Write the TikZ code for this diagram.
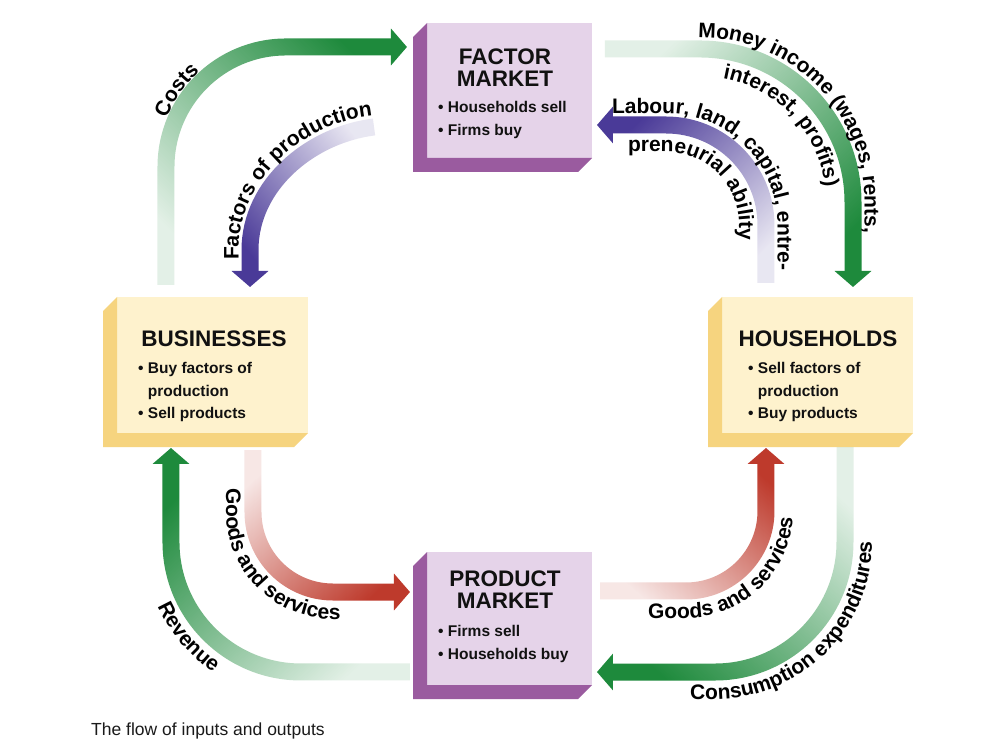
\documentclass[tikz,border=0pt]{standalone}
\usepackage{fontspec}
\setmainfont{Liberation Sans}
\usetikzlibrary{arrows.meta, decorations.text, fadings}
\definecolor{flowgreen}{HTML}{1E8A3C}
\definecolor{flowpurple}{HTML}{4A3A98}
\definecolor{flowred}{HTML}{BE3A2C}
\definecolor{marketface}{HTML}{E5D3E9}
\definecolor{marketside}{HTML}{9A5B9F}
\definecolor{sectorface}{HTML}{FEF2CD}
\definecolor{sectorside}{HTML}{F6D47F}
\definecolor{labelink}{HTML}{111111}
\definecolor{captionink}{HTML}{1A1A1A}
\newcommand{\flowfont}{\bfseries\fontsize{21}{21}\selectfont}
\tikzfading[name=fadene, bottom color=transparent!88, top color=transparent!0, shading angle=-45]
\tikzfading[name=fadenw, bottom color=transparent!88, top color=transparent!0, shading angle=45]
\tikzfading[name=fadesw, bottom color=transparent!88, top color=transparent!0, shading angle=135]
\tikzfading[name=fadese, bottom color=transparent!88, top color=transparent!0, shading angle=225]

\begin{document}
\begin{tikzpicture}[
        x=1pt, y=-1pt,
        flow/.style={line width=17pt, -{Triangle[width=36pt, length=16pt]}},
        face/.style={rectangle, inner sep=0pt, outer sep=0pt},
        marketbox/.style={face, fill=marketface, minimum width=165pt, minimum height=135pt},
        sectorbox/.style={face, fill=sectorface, minimum width=191pt, minimum height=136pt},
        boxtitle/.style={align=center, font=\bfseries\fontsize{22.5}{21.5}\selectfont, text=labelink, inner sep=0pt},
        boxlist/.style={align=left, font=\bfseries\fontsize{15.5}{22.5}\selectfont, text=labelink, inner sep=0pt, anchor=west},
        flowtext/.style={decorate, decoration={text along path, text={|\flowfont|#1}}}
    ]
        \fill[white] (0,0) rectangle (1001,739);

        \node[marketbox] (factor) at (509.5,90.5) {};
        \node[sectorbox] (business) at (212.5,365) {};
        \node[sectorbox] (household) at (817.5,365) {};
        \node[marketbox, minimum height=133pt] (product) at (509.5,618.5) {};
        \foreach \n/\c in {factor/marketside, product/marketside, business/sectorside, household/sectorside}
            \fill[\c] (\n.north west) -- ++(-14,14) -- ([shift={(-14,14)}]\n.south west)
                -- ([shift={(-14,14)}]\n.south east) -- (\n.south east) -- (\n.south west) -- cycle;

        \node[boxtitle] (factortitle) at (505,67.5) {FACTOR\\MARKET};
        \node[boxlist] (factorlist) at (438,120) {• Households sell\\• Firms buy};
        \node[boxtitle] (businesstitle) at (214,339) {BUSINESSES};
        \node[boxlist] (businesslist) at (138,392) {• Buy factors of\\\phantom{• }production\\• Sell products};
        \node[boxtitle] (householdtitle) at (818,339) {HOUSEHOLDS};
        \node[boxlist] (householdlist) at (748,392) {• Sell factors of\\\phantom{• }production\\• Buy products};
        \node[boxtitle] (producttitle) at (505,589.5) {PRODUCT\\MARKET};
        \node[boxlist] (productlist) at (438,644) {• Firms sell\\• Households buy};

        \draw[flow, draw=flowgreen, path fading=fadene] ([shift={(49,-12)}]business.north west) -- (166,167)
            .. controls (166,100.7) and (219.7,47) .. (286,47) -- ([shift={(-20,24)}]factor.north west);
        \draw[flow, draw=flowpurple, path fading=fadesw] ([shift={(-53,104)}]factor.north west)
            .. controls (310,135) and (250,185) .. (250,250) -- ([shift={(133,-10)}]business.north west);
        \draw[flow, draw=flowgreen, path fading=fadese] ([shift={(13,26)}]factor.north east) -- (700,49)
            .. controls (784.5,49) and (853,117.5) .. (853,202) -- ([shift={(131,-10)}]household.north west);
        \draw[flow, draw=flowpurple, path fading=fadenw] ([shift={(44,-14)}]household.north west) -- (766,225)
            .. controls (766,169.8) and (721.2,125) .. (666,125) -- ([shift={(5,102)}]factor.north east);
        \draw[flow, draw=flowred, path fading=fadese] ([shift={(136,17)}]business.south west) -- (253,512)
            .. controls (253,556.2) and (288.8,592) .. (333,592) -- ([shift={(-17,40)}]product.north west);
        \draw[flow, draw=flowgreen, path fading=fadenw] ([shift={(-17,120)}]product.north west) -- (301,672)
            .. controls (229.2,672) and (171,613.8) .. (171,542) -- ([shift={(54,15)}]business.south west);
        \draw[flow, draw=flowred, path fading=fadene] ([shift={(8,39)}]product.north east) -- (686,591)
            .. controls (730.2,591) and (766,555.2) .. (766,511) -- ([shift={(44,15)}]household.south west);
        \draw[flow, draw=flowgreen, path fading=fadesw] ([shift={(123,14)}]household.south west) -- (845,542)
            .. controls (845,613.8) and (786.8,672) .. (715,672) -- ([shift={(5,120)}]product.north east);

        \path[flowtext={Costs}, decoration={text align={left indent=50pt}}]
            (157,167) .. controls (157,95.7) and (214.7,38) .. (286,38);
        \path[flowtext={Factors of production}, decoration={text align={left indent=12pt}}]
            (238.5,272) -- (238.5,250) .. controls (238.5,178) and (305,123) .. (372,115.5) -- (395,112);
        \path[flowtext={Money income (wages, rents,}, decoration={text align={left indent=98pt}}]
            (600,37.5) -- (700,37.5) .. controls (790.9,37.5) and (864.5,111.1) .. (864.5,202) -- (864.5,300);
        \path[flowtext={interest, profits)}, decoration={text align={left indent=43pt}}]
            (680,76) -- (700,76) .. controls (769.6,76) and (826,132.4) .. (826,202) -- (826,270);
        \path[flowtext={Labour, land, capital, entre-}, decoration={text align={left indent=12pt}}]
            (600,113.5) -- (666,113.5) .. controls (727.6,113.5) and (777.5,163.4) .. (777.5,225) -- (777.5,300);
        \path[flowtext={preneurial ability}, decoration={text align={left indent=8pt}}]
            (620,152) -- (666,152) .. controls (706.3,152) and (739,184.7) .. (739,225) -- (739,290);
        \path[flowtext={Goods and services}, decoration={text align={left indent=18pt}}]
            (226,470) -- (226,512) .. controls (226,571.1) and (273.9,619) .. (333,619) -- (400,619);
        \path[flowtext={Revenue}, decoration={text align={left indent=128pt}}]
            (144,480) -- (144,542) .. controls (144,628.7) and (214.3,699) .. (301,699) -- (380,699);
        \path[flowtext={Goods and services}, decoration={text align={left indent=28pt}}]
            (620,618) -- (686,618) .. controls (745.1,618) and (793,570.1) .. (793,511) -- (793,460);
        \path[flowtext={Consumption expenditures}, decoration={text align={left indent=50pt}}]
            (640,699) -- (715,699) .. controls (801.7,699) and (872,628.7) .. (872,542) -- (872,470);

        \node[anchor=west, font=\fontsize{17.5}{20}\selectfont, text=captionink, inner sep=0pt] (caption)
            at (91,731) {The flow of inputs and outputs};
\end{tikzpicture}
\end{document}
